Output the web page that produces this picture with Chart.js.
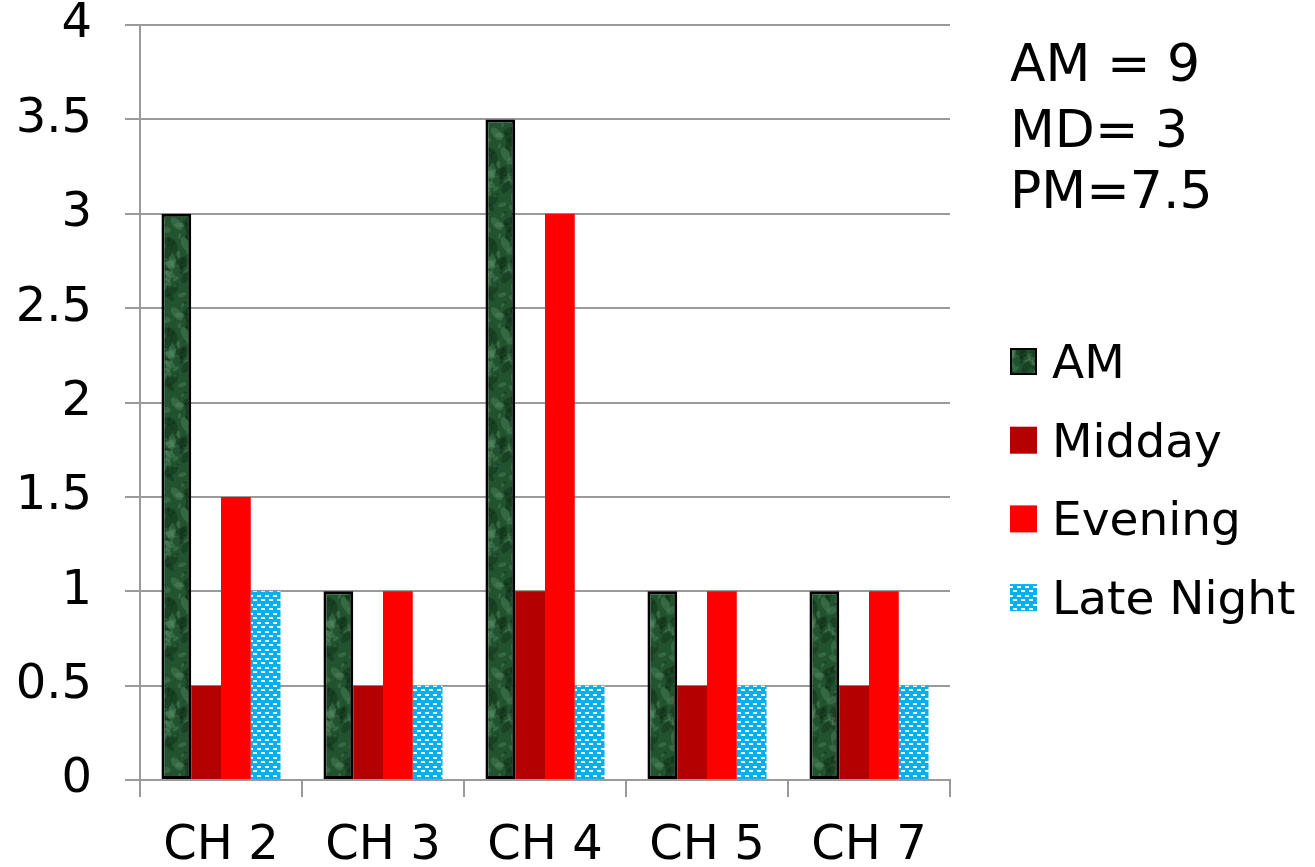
<!DOCTYPE html>
<html>
<head>
<meta charset="utf-8">
<title>Channel times</title>
<script src="https://cdn.jsdelivr.net/npm/chart.js@4/dist/chart.umd.min.js"></script>
<style>
    html, body { margin: 0; padding: 0; background: #fff; }
    #chart { display: block; }
</style>
</head>
<body>
<canvas id="chart" width="1315" height="867"></canvas>
<script>
// ----- DATA -----
const channels = ['CH 2', 'CH 3', 'CH 4', 'CH 5', 'CH 7'];
const seriesNames = ['AM', 'Midday', 'Evening', 'Late Night'];
const amValues = [3, 1, 3.5, 1, 1];
const middayValues = [0.5, 0.5, 1, 0.5, 0.5];
const eveningValues = [1.5, 1, 3, 1, 1];
const lateNightValues = [1, 0.5, 0.5, 0.5, 0.5];
const totalsText = ['AM = 9', 'MD= 3', 'PM=7.5'];

document.addEventListener('DOMContentLoaded', () => {
    const ctx = document.getElementById('chart').getContext('2d');
    const FONT = '"DejaVu Sans", Verdana, sans-serif';
    const GRID = '#9a9a9a';

    // ----- FILL PATTERNS -----
    function makeMarble() {
        const c = document.createElement('canvas');
        c.width = 40; c.height = 90;
        const g = c.getContext('2d');
        g.fillStyle = '#22532f';
        g.fillRect(0, 0, c.width, c.height);
        // mottled streaks, placed with fixed trig offsets
        for (let i = 0; i < 90; i++) {
            const x = (Math.sin(i * 12.9898) * 0.5 + 0.5) * c.width;
            const y = (Math.sin(i * 78.233) * 0.5 + 0.5) * c.height;
            const r = 2 + (Math.sin(i * 3.7) * 0.5 + 0.5) * 6;
            const light = i % 2 === 0;
            g.fillStyle = light ? 'rgba(100,155,115,0.3)' : 'rgba(8,35,18,0.35)';
            g.beginPath();
            g.ellipse(x, y, r, r * 0.5, i * 0.7, 0, Math.PI * 2);
            g.fill();
        }
        return ctx.createPattern(c, 'repeat');
    }

    function makeBricks() {
        const c = document.createElement('canvas');
        c.width = 8; c.height = 9;
        const g = c.getContext('2d');
        g.fillStyle = '#00b0f0';
        g.fillRect(0, 0, 8, 9);
        g.fillStyle = '#ffffff';
        g.fillRect(1, 1, 4, 2);
        g.fillRect(5, 5, 3, 2);
        g.fillRect(0, 5, 1, 2);
        return ctx.createPattern(c, 'repeat');
    }

    const marble = makeMarble();
    const bricks = makeBricks();

    // ----- LEGEND + TOTALS (drawn beside the plot) -----
    const sideText = {
        id: 'sideText',
        afterDraw(chart) {
            const c = chart.ctx;
            c.save();
            c.fillStyle = '#000';
            c.textAlign = 'left';
            c.textBaseline = 'alphabetic';

            c.font = '52px ' + FONT;
            const baselines = [81, 147, 208];
            totalsText.forEach((t, i) => c.fillText(t, 1010, baselines[i]));

            c.font = '47px ' + FONT;
            chart.data.datasets.forEach((ds, i) => {
                const cy = 361 + i * 78.7;
                c.fillStyle = ds.backgroundColor;
                c.fillRect(1010, cy - 13, 27, 27);
                if (ds.borderWidth) {
                    c.strokeStyle = '#000';
                    c.lineWidth = 2;
                    c.strokeRect(1011, cy - 12, 25, 25);
                }
                c.fillStyle = '#000';
                c.fillText(ds.label, 1052, cy + 17);
            });
            c.restore();
        }
    };

    // ----- CHART -----
    new Chart(ctx, {
        type: 'bar',
        data: {
            labels: channels,
            datasets: [
                { label: seriesNames[0], data: amValues, backgroundColor: marble, borderColor: '#000', borderWidth: 3, borderSkipped: false },
                { label: seriesNames[1], data: middayValues, backgroundColor: '#b40000', borderWidth: 0 },
                { label: seriesNames[2], data: eveningValues, backgroundColor: '#ff0000', borderWidth: 0 },
                { label: seriesNames[3], data: lateNightValues, backgroundColor: bricks, borderWidth: 0 }
            ]
        },
        options: {
            responsive: false,
            devicePixelRatio: 1,
            animation: false,
            categoryPercentage: 0.735,
            barPercentage: 1,
            layout: { padding: { left: 0, right: 365, top: 25, bottom: 0 } },
            plugins: {
                legend: { display: false },
                tooltip: { enabled: false }
            },
            scales: {
                x: {
                    afterFit: (scale) => { scale.height = 87; scale.paddingLeft = 0; scale.paddingRight = 0; },
                    grid: { display: true, drawOnChartArea: false, drawTicks: true, tickLength: 17, color: GRID, lineWidth: 2 },
                    border: { display: true, color: GRID, width: 2 },
                    ticks: { color: '#000', padding: 26, font: { family: FONT, size: 48, lineHeight: 1 } }
                },
                y: {
                    min: 0,
                    max: 4,
                    afterFit: (scale) => { scale.width = 140; scale.paddingTop = 0; scale.paddingBottom = 0; },
                    grid: { color: GRID, lineWidth: 2, tickLength: 15 },
                    border: { display: true, color: GRID, width: 2 },
                    ticks: {
                        stepSize: 0.5,
                        color: '#000',
                        padding: 33,
                        font: { family: FONT, size: 48, lineHeight: 1 },
                        callback: (v) => String(v)
                    }
                }
            }
        },
        plugins: [sideText]
    });
});
</script>
</body>
</html>
